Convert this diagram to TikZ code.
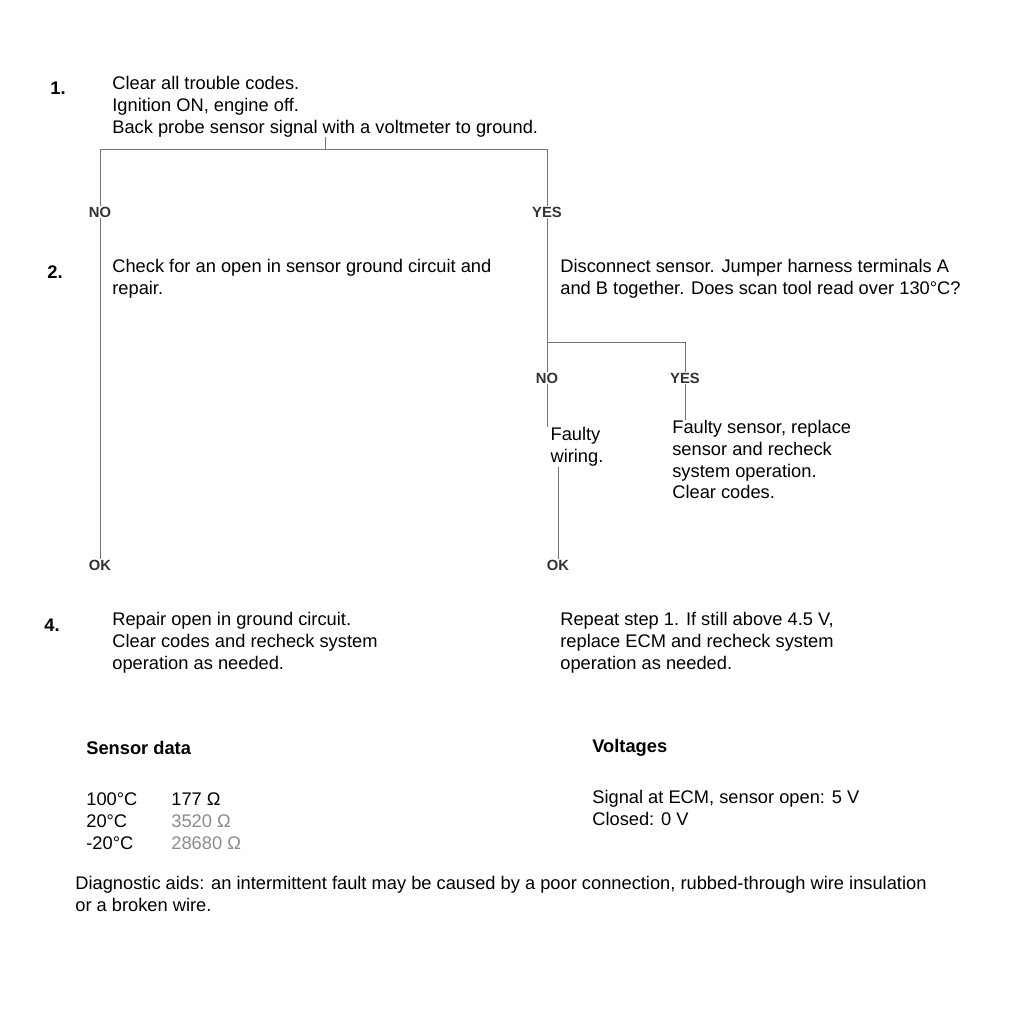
\documentclass[tikz,border=0pt]{standalone}
\usepackage{fontspec}
\setmainfont{Liberation Sans}
\usetikzlibrary{positioning}

\begin{document}
\begin{tikzpicture}[
    x = 0.025cm, y = -0.025cm,
    every node/.style = {font=\fontsize{13}{15.5}\selectfont, inner sep=0pt, text=black},
      stepnum/.style = {font=\fontsize{13}{15.5}\selectfont\bfseries},
      steptext/.style = {anchor=north west, align=left},
      answer/.style = {font=\fontsize{10.5}{12}\selectfont\bfseries, text=black!80},
      notehead/.style = {anchor=west, font=\fontsize{13}{15.5}\selectfont\bfseries},
      every path/.style = {draw=black!55, line width=0.5pt}
    ]
    \useasboundingbox[fill=white, draw=none] (0,0) rectangle (1021,1015);

    \node[stepnum] (num1) at (58,88) {1.};
    \node[steptext] (step1) at (112,76) {Clear all trouble codes.\\Ignition ON, engine off.\\Back probe sensor signal with a voltmeter to ground.};
    \coordinate[below=3mm of step1] (split1);
    \node[answer] (no1) at (100,212) {NO};
    \node[answer] (yes1) at (547,212) {YES};
    \draw (step1.south) -- (split1);
    \draw (no1) |- (split1) -| (yes1);

    \node[stepnum] (num2) at (55,272) {2.};
    \node[steptext] (step2) at (112,259) {Check for an open in sensor ground circuit and\\repair.};
    \node[steptext] (step3) at (560,259) {Disconnect sensor. Jumper harness terminals A\\and B together. Does scan tool read over 130°C?};

    \coordinate (split3) at (547,342);
    \node[answer] (no3) at (547,378) {NO};
    \node[answer] (yes3) at (685,378) {YES};
    \draw (yes1) -- (no3);
    \draw (split3) -| (yes3);

    \node[anchor=north, align=left] (fix3) at (577,427) {Faulty\\wiring.};
    \node[steptext] (step6) at (672,420) {Faulty sensor, replace\\sensor and recheck\\system operation.\\Clear codes.};
    \draw (no3) -- (no3 |- fix3.north);
    \draw (yes3) -- (yes3 |- step6.north);

    \node[answer] (ok4) at (100,565) {OK};
    \node[answer] (ok5) at (558,565) {OK};
    \draw (no1) -- (ok4);
    \draw (fix3.south -| ok5) -- (ok5);

    \node[stepnum] (num4) at (52,625) {4.};
    \node[steptext] (step4) at (112,612) {Repair open in ground circuit.\\Clear codes and recheck system\\operation as needed.};
    \node[steptext] (step5) at (560,612) {Repeat step 1. If still above 4.5 V,\\replace ECM and recheck system\\operation as needed.};

    \node[notehead] (datahead) at (86,748) {Sensor data};
    \node[steptext] (datatab) at (86,790) {\begin{tabular}{@{}l@{\hspace{0.85cm}}l@{}}
        100°C & 177 Ω\\
        20°C & \textcolor{black!45}{3520 Ω}\\
        -20°C & \textcolor{black!45}{28680 Ω}
    \end{tabular}};
    \node[notehead] (volthead) at (592,748) {Voltages};
    \node[steptext] (volttab) at (592,790) {Signal at ECM, sensor open: 5 V\\Closed: 0 V};

    \node[steptext] (aids) at (75,876) {Diagnostic aids: an intermittent fault may be caused by a poor connection, rubbed-through wire insulation\\or a broken wire.};
\end{tikzpicture}
\end{document}
